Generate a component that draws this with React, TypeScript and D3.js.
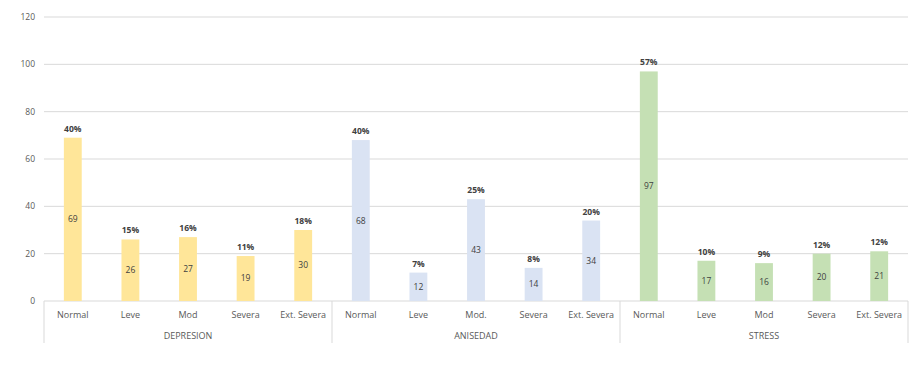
import React from "react";
import * as d3 from "d3";

const groups = ["DEPRESION", "ANISEDAD", "STRESS"];
const levels = [
  ["Normal", "Leve", "Mod", "Severa", "Ext. Severa"],
  ["Normal", "Leve", "Mod.", "Severa", "Ext. Severa"],
  ["Normal", "Leve", "Mod", "Severa", "Ext. Severa"],
];
const depresion = [69, 26, 27, 19, 30];
const anisedad = [68, 12, 43, 14, 34];
const stress = [97, 17, 16, 20, 21];
const depresionPct = ["40%", "15%", "16%", "11%", "18%"];
const anisedadPct = ["40%", "7%", "25%", "8%", "20%"];
const stressPct = ["57%", "10%", "9%", "12%", "12%"];
const colors = ["#FFE699", "#DAE3F3", "#C5E0B4"];
const yTicks = [0, 20, 40, 60, 80, 100, 120];

const values = [depresion, anisedad, stress];
const pcts = [depresionPct, anisedadPct, stressPct];

export default function App() {
  const width = 921;
  const height = 367;
  const margin = { left: 44, right: 13, top: 17, bottom: 66 };
  const innerW = width - margin.left - margin.right;
  const innerH = height - margin.top - margin.bottom;

  const rows = values.flatMap((vals, g) =>
    vals.map((v, i) => ({ key: `${g}-${i}`, g, label: levels[g][i], value: v, pct: pcts[g][i] }))
  );

  const x = d3.scaleBand<string>().domain(rows.map((r) => r.key)).range([0, innerW]).paddingInner(0.69).paddingOuter(0.345);
  const y = d3.scaleLinear().domain([0, 120]).range([innerH, 0]);
  const font = "'Open Sans', 'Liberation Sans', sans-serif";
  const groupW = innerW / groups.length;

  return (
    <svg width={width} height={height} style={{ position: "absolute", left: 0, top: 0 }} fontFamily={font}>
      <g transform={`translate(${margin.left},${margin.top})`}>
        {yTicks.map((t) => (
          <g key={t}>
            <line x1={0} x2={innerW} y1={y(t)} y2={y(t)} stroke="#D9D9D9" strokeWidth={1} />
            <text x={-9} y={y(t)} dy="0.35em" textAnchor="end" fontSize={8.5} fill="#595959">
              {t}
            </text>
          </g>
        ))}
        {d3.range(groups.length + 1).map((i) => (
          <line key={i} x1={i * groupW} x2={i * groupW} y1={innerH} y2={innerH + 42} stroke="#D9D9D9" />
        ))}
        {rows.map((r) => {
          const bx = x(r.key)!;
          const cx = bx + x.bandwidth() / 2;
          return (
            <g key={r.key}>
              <rect x={bx} y={y(r.value)} width={x.bandwidth()} height={innerH - y(r.value)} fill={colors[r.g]} />
              <text x={cx} y={(y(r.value) + innerH) / 2} dy="0.35em" textAnchor="middle" fontSize={8.5} fill="#404040">
                {r.value}
              </text>
              <text x={cx} y={y(r.value) - 6} textAnchor="middle" fontSize={8.5} fontWeight="bold" fill="#404040">
                {r.pct}
              </text>
              <text x={cx} y={innerH + 14} dy="0.35em" textAnchor="middle" fontSize={9} fill="#595959">
                {r.label}
              </text>
            </g>
          );
        })}
        {groups.map((gname, i) => (
          <text key={gname} x={(i + 0.5) * groupW} y={innerH + 35} dy="0.35em" textAnchor="middle" fontSize={9} fill="#595959">
            {gname}
          </text>
        ))}
      </g>
    </svg>
  );
}
